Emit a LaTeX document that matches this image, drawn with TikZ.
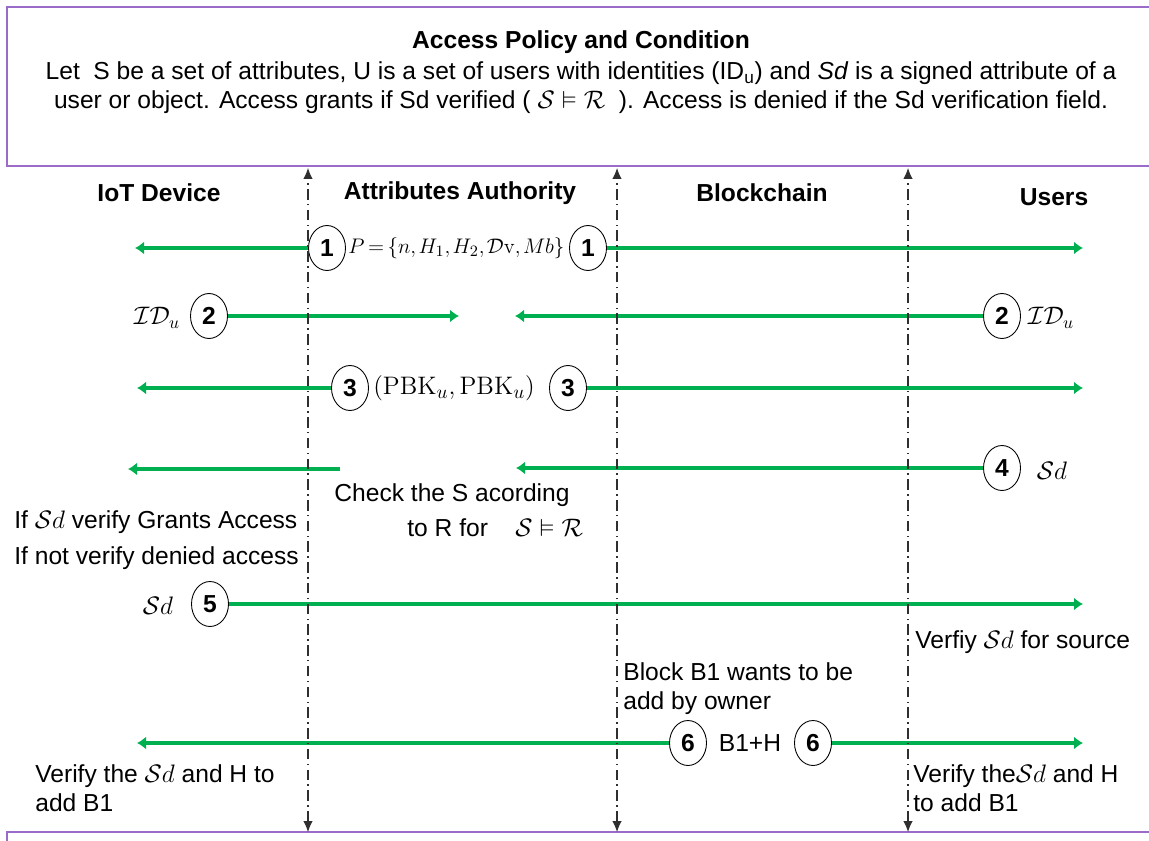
\documentclass[tikz,border=0pt]{standalone}
\usepackage{amssymb}
\usepackage[no-math]{fontspec}
\setmainfont{Liberation Sans}
\usetikzlibrary{arrows.meta,shapes.geometric}
\definecolor{msggreen}{HTML}{00B050}
\definecolor{boxpurple}{HTML}{9A6BC8}
\definecolor{linegray}{HTML}{2F2F2F}

\begin{document}
\begin{tikzpicture}[x=0.02cm,y=-0.02cm,
 lbl/.style={inner sep=0pt,align=left,font=\fontsize{14}{16.5}\selectfont},
 head/.style={inner sep=0pt,font=\fontsize{14}{16.5}\selectfont\bfseries},
 num/.style={ellipse,draw=black,line width=0.5pt,fill=white,minimum width=0.74cm,minimum height=0.9cm,inner sep=0pt,font=\fontsize{14}{16.5}\selectfont\bfseries},
 msg/.style={-{Latex[length=1.8mm,width=2.6mm]},line width=2.8pt,msggreen},
 life/.style={{Latex[length=2.2mm,width=1.9mm]}-{Latex[length=2.2mm,width=1.9mm]},line width=0.6pt,linegray,dash pattern=on 6pt off 2.5pt on 0.8pt off 2.5pt}]
\useasboundingbox (0,0) rectangle (1149,841);

% policy box
\draw[boxpurple,line width=1pt] (7,7) rectangle (1165,166);
\node[head] (title) at (581,42) {Access Policy and Condition};
\node[lbl,align=center] (policy) at (581,88) {Let\ \ S be a set of attributes, U is a set of users with identities (ID\textsubscript{u}) and \textit{Sd} is a signed attribute of a\\user or object. Access grants if Sd verified ( $\mathcal{S}\vDash\mathcal{R}$\ \ ). Access is denied if the Sd verification field.};
\draw[boxpurple,line width=1pt] (7,848) -- (7,832) -- (1165,832);

% participants
\node[head] (iot) at (159,193) {IoT Device};
\node[head] (auth) at (460,193) {Attributes Authority};
\node[head] (chain) at (762,193) {Blockchain};
\node[head] (users) at (1054,197) {Users};

% 1: public parameters
\node[num] (n1a) at (327,248) {1};
\node[lbl,anchor=west,font=\fontsize{13}{15}\selectfont] (pset) at (348,248) {$\thickmuskip=3mu\thinmuskip=2mu P=\{n,H_1,H_2,\mathcal{D}\mathrm{v},Mb\}$};
\node[num] (n1b) at (588,248) {1};
\coordinate (e1l) at (135,248);
\coordinate (e1r) at (1083,248);
\draw[msg] (n1a) -- (e1l);
\draw[msg] (n1b) -- (e1r);

% 2: identities
\node[lbl] (id2a) at (157,318) {$\mathcal{I}\mathcal{D}_u$};
\node[num] (n2a) at (209,316) {2};
\node[num] (n2b) at (1002,316) {2};
\node[lbl] (id2b) at (1051,318) {$\mathcal{I}\mathcal{D}_u$};
\coordinate (e2a) at (459,316);
\coordinate (e2b) at (515,316);
\draw[msg] (n2a) -- (e2a);
\draw[msg] (n2b) -- (e2b);

% 3: key pair
\node[num] (n3a) at (350,388) {3};
\node[lbl,anchor=west,font=\fontsize{15}{17}\selectfont] (keys) at (373,388) {$(\mathrm{PBK}_u,\mathrm{PBK}_u)$};
\node[num] (n3b) at (568,388) {3};
\coordinate (e3l) at (137,388);
\coordinate (e3r) at (1083,388);
\draw[msg] (n3a) -- (e3l);
\draw[msg] (n3b) -- (e3r);

% 4: signed attribute
\coordinate (s4) at (340,469);
\coordinate (e4l) at (128,469);
\draw[msg] (s4) -- (e4l);
\node[num] (n4) at (1002,468) {4};
\node[lbl] (sd4) at (1052,471) {$\mathcal{S}d$};
\coordinate (e4b) at (516,468);
\draw[msg] (n4) -- (e4b);

\node[lbl] (chk1) at (452,495) {Check the S acording};
\node[lbl,anchor=west] (chk2) at (407,528) {to R for\ \ \ \ $\mathcal{S}\vDash\mathcal{R}$};
\node[lbl,anchor=west] (grant) at (14,522) {If $\mathcal{S}d$ verify Grants Access};
\node[lbl,anchor=west] (deny) at (14,558) {If not verify denied access};

% 5: verification request
\node[lbl] (sd5) at (158,606) {$\mathcal{S}d$};
\node[num] (n5) at (210,604) {5};
\coordinate (e5) at (1083,604);
\draw[msg] (n5) -- (e5);
\node[lbl,anchor=west] (src) at (915,642) {Verfiy $\mathcal{S}d$ for source};
\node[lbl,anchor=west] (owner) at (623,689) {Block B1 wants to be\\add by owner};

% 6: new block
\node[num] (n6a) at (688,743) {6};
\node[lbl] (blk) at (750,743) {B1+H};
\node[num] (n6b) at (813,743) {6};
\coordinate (e6l) at (137,743);
\coordinate (e6r) at (1083,743);
\draw[msg] (n6a) -- (e6l);
\draw[msg] (n6b) -- (e6r);
\node[lbl,anchor=west] (addl) at (35,788) {Verify the $\mathcal{S}d$ and H to\\add B1};
\node[lbl,anchor=west] (addr) at (913,788) {Verify the$\mathcal{S}d$ and H\\to add B1};

% lifelines
\foreach \x/\n in {308/a,617/b,908/c}{
  \coordinate (top\n) at (\x,168);
  \coordinate (bot\n) at (\x,832);
  \draw[life] (bot\n) -- (top\n);
}
\end{tikzpicture}
\end{document}
